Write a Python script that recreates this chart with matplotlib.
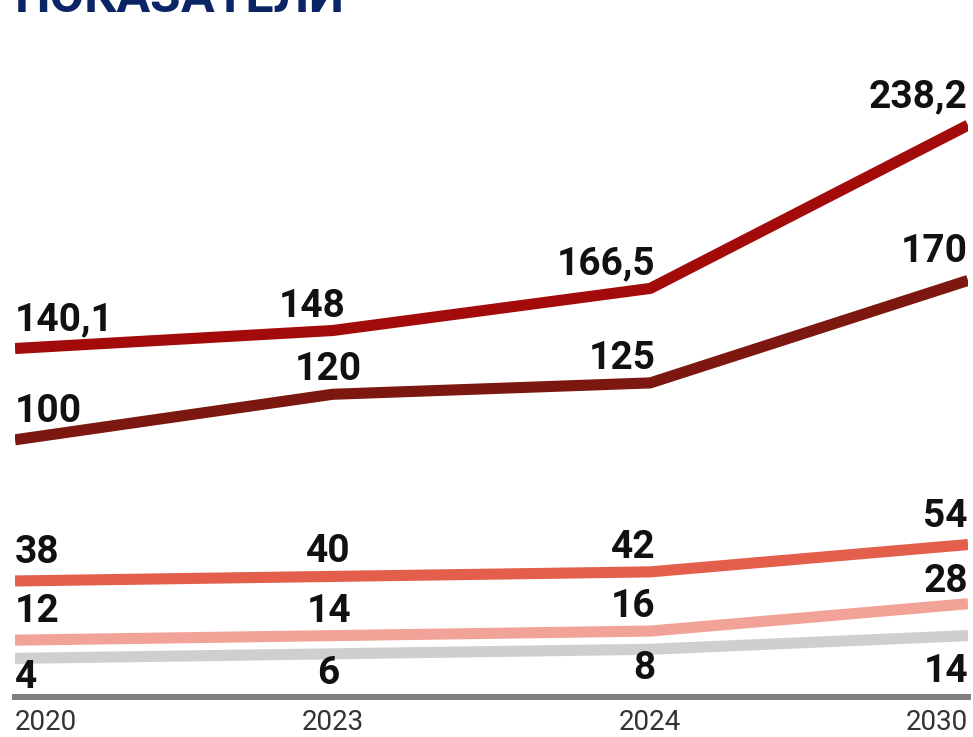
import matplotlib
matplotlib.use("Agg")
import matplotlib.pyplot as plt

years = ["2020", "2023", "2024", "2030"]
series_a = [140.1, 148, 166.5, 238.2]
series_b = [100, 120, 125, 170]
series_c = [38, 40, 42, 54]
series_d = [12, 14, 16, 28]
series_e = [4, 6, 8, 14]
labels_a = ["140,1", "148", "166,5", "238,2"]
labels_b = ["100", "120", "125", "170"]
labels_c = ["38", "40", "42", "54"]
labels_d = ["12", "14", "16", "28"]
labels_e = ["4", "6", "8", "14"]
title = "ПОКАЗАТЕЛИ"

colors = ["#a30b0b", "#7d1810", "#e35e4b", "#f2a397", "#cfcfcf"]
series = [series_a, series_b, series_c, series_d, series_e]
labels = [labels_a, labels_b, labels_c, labels_d, labels_e]

W, H = 973, 737
fig = plt.figure(figsize=(W / 100, H / 100), dpi=100)
ax = fig.add_axes([15 / W, (H - 697) / H, (968 - 15) / W, (697 - 40) / H])

xs = list(range(len(years)))
for s, c in zip(series, colors):
    ax.plot(xs, s, color=c, lw=8, solid_capstyle="butt", solid_joinstyle="round", zorder=2)

px = 72 / 100  # points per pixel
label_font = dict(family=["Roboto", "DejaVu Sans"], weight="bold", size=28, color="#111111")
ha_cols = ["left", "center", "right", "right"]
dx_cols = [0, -4, 5, 0]

for si, (s, labs) in enumerate(zip(series, labels)):
    for i, (v, t) in enumerate(zip(s, labs)):
        dx = dx_cols[i]
        if si == 4:
            dy = -30 if i < 3 else -46
        else:
            dy = 18 if i in (0, 3) else 14
        if si == 3 and i == 3:
            dy = 12
        if si == 0 and i == 1:
            dx = -20
        ax.annotate(t, (xs[i], v), xytext=(dx * px, dy * px), textcoords="offset points",
                    ha=ha_cols[i], va="baseline", zorder=3, **label_font)

ax.set_xlim(0, 3)
ax.set_ylim(-12.96, 275.6)
ax.set_yticks([])
ax.set_xticks(xs)
ax.set_xticklabels(years)
for sp in ["top", "left", "right"]:
    ax.spines[sp].set_visible(False)
ax.spines["bottom"].set_color("#808080")
ax.spines["bottom"].set_linewidth(4.3)
ax.tick_params(axis="x", length=0, pad=9, labelsize=20, labelcolor="#333333")
tl = ax.get_xticklabels()
for i, lab in enumerate(tl):
    lab.set_fontfamily(["Roboto", "DejaVu Sans"])
    lab.set_fontweight("normal")
    lab.set_horizontalalignment(["left", "center", "center", "right"][i])

ax.patch.set_alpha(0)

fig.text(15 / W, (H - 12) / H, title, ha="left", va="baseline",
         fontsize=36, fontweight="bold", color="#0a2466", family=["Roboto", "DejaVu Sans"])

fig.savefig("out.png", dpi=100)
